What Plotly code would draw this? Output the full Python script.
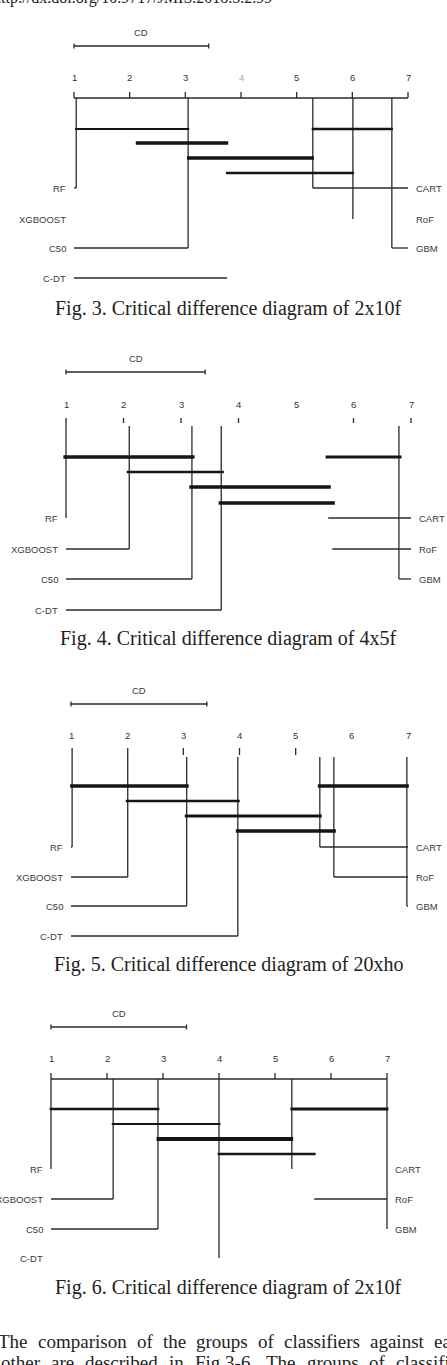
import plotly.graph_objects as go

W, H = 447, 1365

# ---------------- data ----------------
classifiers = ["RF", "XGBOOST", "C50", "C-DT", "CART", "RoF", "GBM"]
tick_values = [1, 2, 3, 4, 5, 6, 7]
cd_value = 2.42

ranks_fig3 = [1.04, 2.13, 3.05, 3.75, 5.29, 6.01, 6.71]
ranks_fig4 = [1.00, 2.10, 3.19, 3.70, 5.56, 5.63, 6.79]
ranks_fig5 = [1.02, 2.01, 3.06, 3.97, 5.43, 5.68, 6.98]
ranks_fig6 = [1.00, 2.11, 2.91, 4.00, 5.30, 5.70, 7.00]

# cliques (groups not significantly different): first / last member index
clique_first = [0, 1, 2, 3, 4]
clique_last = [2, 3, 4, 5, 6]
clique_row = [0, 1, 2, 3, 0]

captions = [
    "Fig. 3. Critical difference diagram of 2x10f",
    "Fig. 4. Critical difference diagram of 4x5f",
    "Fig. 5. Critical difference diagram of 20xho",
    "Fig. 6. Critical difference diagram of 2x10f",
]
header_text = "http://dx.doi.org/10.9717/JMIS.2018.5.2.99"
body_line1 = ["The", "comparison", "of", "the", "groups", "of", "classifiers", "against", "each"]
body_line2 = ["other", "are", "described", "in", "Fig.3-6.", "The", "groups", "of", "classifiers"]

# ---------------- layout / style (pixel positions of each panel) ----------------
T = True
F = False
panels = [
    dict(ranks=ranks_fig3, x1=74, x7=408, cd_lab=32, cd_bar=46, tick_lab=77,
         axis_line=True, axis_y=98, ticks=[1, 2, 3, 4, 5, 6, 7], tick_top=92, tick_bot=98,
         conn_top=[98] * 7,
         vert=[T, F, T, F, T, T, T], horiz=[T, F, T, T, T, F, T],
         clique_y=[129, 143, 158, 173], clique_w=[2.2, 3.6, 3.6, 2.6, 2.6], pad=0.02,
         rows=[188, 219, 248, 278], caption_y=309,
         tick_colors=["#333", "#333", "#333", "#8db3c7", "#333", "#333", "#333"]),
    dict(ranks=ranks_fig4, x1=66, x7=411, cd_lab=358, cd_bar=372, tick_lab=404,
         axis_line=False, axis_y=423, ticks=[2, 3, 4, 6, 7], tick_top=418, tick_bot=423,
         conn_top=[418, 426, 426, 426, 426, 426, 426],
         vert=[T, T, T, T, F, F, T], horiz=[T, T, T, T, T, T, T],
         clique_y=[457, 472, 487, 503], clique_w=[3.4, 2.4, 3.4, 3.6, 3.0], pad=0.045,
         rows=[518, 549, 579, 610], caption_y=638,
         tick_colors=["#333"] * 7),
    dict(ranks=ranks_fig5, x1=71, x7=408, cd_lab=690, cd_bar=704, tick_lab=735,
         axis_line=False, axis_y=755, ticks=[3, 4, 5], tick_top=748, tick_bot=755,
         conn_top=[748, 748, 757, 757, 757, 757, 757],
         vert=[T, T, T, T, T, T, T], horiz=[T, T, T, T, T, T, T],
         clique_y=[786, 801, 816, 831], clique_w=[3.4, 2.4, 2.8, 3.6, 3.4], pad=0.035,
         rows=[847, 877, 906, 936], caption_y=964,
         tick_colors=["#333"] * 7),
    dict(ranks=ranks_fig6, x1=51, x7=387, cd_lab=1013, cd_bar=1027, tick_lab=1058,
         axis_line=True, axis_y=1079, ticks=[1, 2, 3, 4, 5, 6, 7], tick_top=1073, tick_bot=1079,
         conn_top=[1079] * 7,
         vert=[T, T, T, T, T, F, T], horiz=[T, T, T, F, F, T, T],
         clique_y=[1109, 1124, 1139, 1154], clique_w=[2.6, 2.2, 4.0, 2.6, 3.0], pad=0.025,
         rows=[1169, 1199, 1229, 1258], caption_y=1287,
         tick_colors=["#333"] * 7),
]

LINE = "#2b2b2b"
TXT = "#3a3a3a"
SANS = "Liberation Sans, Arial, sans-serif"
SERIF = "Liberation Serif, Times New Roman, serif"

# approximate Times glyph advance widths (em) for justified body text placement
TIMES_W = {
    "T": .611, "h": .5, "e": .444, "c": .444, "o": .5, "m": .778, "p": .5, "a": .444,
    "r": .333, "i": .278, "s": .389, "n": .5, "f": .333, "t": .278, "g": .5, "u": .5,
    "l": .278, "d": .5, "b": .5, "F": .556, ".": .25, "3": .5, "6": .5, "-": .333,
}


def word_w(w, size):
    return sum(TIMES_W.get(ch, .5) for ch in w) * size


def py(px):
    return 1 - px / H


fig = go.Figure()
annotations = []
axes = {}

for i, p in enumerate(panels):
    xref = "x" if i == 0 else f"x{i + 1}"
    key = "xaxis" if i == 0 else f"xaxis{i + 1}"
    s = (p["x7"] - p["x1"]) / 6.0
    axes[key] = dict(range=[1 - p["x1"] / s, 1 + (W - p["x1"]) / s], visible=False,
                     fixedrange=True, domain=[0, 1])
    if i > 0:
        axes[key].update(overlaying="x", anchor="y")

    ranks = p["ranks"]
    lo, hi = tick_values[0], tick_values[-1]
    xs, ys = [], []

    def seg(xa, ya, xb, yb):
        xs.extend([xa, xb, None])
        ys.extend([ya, yb, None])

    # CD bar
    seg(lo, p["cd_bar"], lo + cd_value, p["cd_bar"])
    seg(lo, p["cd_bar"] - 2.5, lo, p["cd_bar"] + 2.5)
    seg(lo + cd_value, p["cd_bar"] - 2.5, lo + cd_value, p["cd_bar"] + 2.5)
    annotations.append(dict(x=lo + cd_value / 2, y=p["cd_lab"], xref=xref, yref="y",
                            text="CD", showarrow=False, xanchor="center", yanchor="middle",
                            font=dict(family=SANS, size=9.5, color=TXT)))
    # axis
    if p["axis_line"]:
        seg(lo, p["axis_y"], hi, p["axis_y"])
    for t in p["ticks"]:
        seg(t, p["tick_top"], t, p["tick_bot"])
    for k, t in enumerate(tick_values):
        annotations.append(dict(x=t, y=p["tick_lab"], xref=xref, yref="y", text=str(t),
                                showarrow=False, xanchor="center", yanchor="middle",
                                font=dict(family=SANS, size=9.5, color=p["tick_colors"][k])))
    # connectors + labels
    for j, r in enumerate(ranks):
        left = j < 4
        row_y = p["rows"][j if left else j - 4]
        if p["vert"][j]:
            seg(r, p["conn_top"][j], r, row_y)
        if p["horiz"][j]:
            if left:
                seg(lo, row_y, r, row_y)
            else:
                seg(r, row_y, hi, row_y)
        annotations.append(dict(x=lo if left else hi, y=row_y, xref=xref, yref="y",
                                text=classifiers[j], showarrow=False,
                                xanchor="right" if left else "left", yanchor="middle",
                                xshift=-6 if left else 6,
                                font=dict(family=SANS, size=9.5, color=TXT)))
    fig.add_trace(go.Scatter(x=xs, y=ys, xaxis=xref, yaxis="y", mode="lines",
                             line=dict(color=LINE, width=1.3), hoverinfo="skip",
                             showlegend=False))
    # cliques
    for c in range(len(clique_first)):
        a = ranks[clique_first[c]] - p["pad"]
        b = ranks[clique_last[c]] + p["pad"]
        yy = p["clique_y"][clique_row[c]]
        fig.add_trace(go.Scatter(x=[a, b], y=[yy, yy], xaxis=xref, yaxis="y", mode="lines",
                                 line=dict(color="#151515", width=p["clique_w"][c]),
                                 hoverinfo="skip", showlegend=False))
    # caption
    annotations.append(dict(x=229 / W, y=py(p["caption_y"]), xref="paper", yref="paper",
                            text=captions[i], showarrow=False, xanchor="center",
                            yanchor="middle", font=dict(family=SERIF, size=20, color="#222")))

# header and body text
annotations.append(dict(x=-9 / W, y=py(-2), xref="paper", yref="paper", text=header_text,
                        showarrow=False, xanchor="left", yanchor="middle",
                        font=dict(family=SERIF, size=16, color="#222")))
BODY_SIZE = 19
for words, x0, gap, yc in ((body_line1, -3, 10.2, 1341), (body_line2, 0, 11.0, 1362)):
    xpos = x0
    for w_ in words:
        annotations.append(dict(x=xpos / W, y=py(yc), xref="paper", yref="paper", text=w_,
                                showarrow=False, xanchor="left", yanchor="middle",
                                borderpad=0,
                                font=dict(family=SERIF, size=BODY_SIZE, color="#222")))
        xpos += word_w(w_, BODY_SIZE) + gap

fig.update_layout(
    width=W, height=H, margin=dict(l=0, r=0, t=0, b=0),
    paper_bgcolor="white", plot_bgcolor="white",
    yaxis=dict(range=[H, 0], visible=False, fixedrange=True, domain=[0, 1]),
    annotations=annotations, showlegend=False,
    **axes,
)
fig.write_html("out.html", config={"displayModeBar": False})
